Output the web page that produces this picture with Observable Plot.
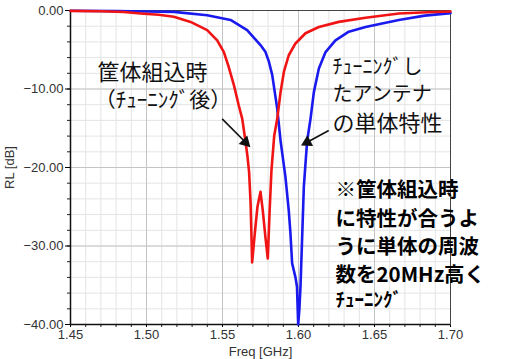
<!DOCTYPE html>
<html>
<head>
<meta charset="utf-8">
<script src="https://cdn.jsdelivr.net/npm/d3@7"></script>
<script src="https://cdn.jsdelivr.net/npm/@observablehq/plot@0.6"></script>
<style>
  html, body { margin: 0; padding: 0; background: #fff; }
  #chart svg { display: block; }
</style>
</head>
<body>
<div id="chart"></div>
<script>
// Housing-integrated (after tuning) – red
const redFreq = [1.45, 1.47, 1.485, 1.496, 1.508, 1.518, 1.529, 1.5399, 1.5465, 1.5509, 1.5541, 1.5575, 1.5607, 1.563, 1.565, 1.5665, 1.5675, 1.5685, 1.5695,
  1.5712, 1.5730, 1.5750, 1.5765, 1.5782, 1.5798, 1.5810, 1.5822, 1.5840, 1.586, 1.5882, 1.5904, 1.5936, 1.598, 1.6046, 1.6134, 1.6265, 1.6441, 1.666, 1.685, 1.70];
const redRL = [-0.05, -0.1, -0.2, -0.38, -0.55, -0.8, -1.45, -2.5, -3.8, -5.3, -7.2, -9.5, -12.1, -13.8, -16.5, -18.7, -20.6, -24.6, -32.1,
  -28.5, -25.0, -23.1, -25.5, -28.8, -31.6, -25.5, -20.4, -16.0, -13.8, -10.4, -7.8, -5.7, -4.2, -2.9, -2.1, -1.45, -0.93, -0.38, -0.22, -0.13];

// Stand-alone tuned antenna – blue
const blueFreq = [1.45, 1.48, 1.50, 1.518, 1.5399, 1.5553, 1.5662, 1.575, 1.5783, 1.5805, 1.5827, 1.586, 1.5882, 1.5914, 1.5936, 1.5947, 1.5958, 1.598, 1.599, 1.5998,
  1.6006, 1.6013, 1.6024, 1.6035, 1.6046, 1.6057, 1.6079, 1.6101, 1.6134, 1.6178, 1.6243, 1.6331, 1.6441, 1.655, 1.666, 1.683, 1.70];
const blueRL = [-0.03, -0.08, -0.12, -0.17, -0.6, -1.2, -2.5, -4.4, -5.3, -6.5, -8.2, -12.5, -16.6, -21.2, -25.5, -28.4, -32.2, -34.0, -35.2, -40.0,
  -38.0, -35.2, -28.9, -22.5, -19.5, -16.6, -13.8, -10.4, -7.4, -5.3, -3.8, -2.7, -2.1, -1.66, -1.2, -0.65, -0.34];

// Axes
const xMajorTicks = [1.45, 1.50, 1.55, 1.60, 1.65, 1.70];
const xMinorTicks = d3.range(0, 26).map(i => +(1.45 + i * 0.01).toFixed(2));
const yMajorTicks = [-40, -30, -20, -10, 0];
const yMinorTicks = d3.range(-40, 1, 2);
const xLabel = "Freq [GHz]";
const yLabel = "RL [dB]";

// Annotations (text, position in data units)
const noteTexts = ["筐体組込時", "（ﾁｭｰﾆﾝｸﾞ後）", "ﾁｭｰﾆﾝｸﾞし", "たアンテナ", "の単体特性"];
const noteFreq  = [1.4678, 1.4660, 1.6224, 1.6224, 1.6224];
const noteRL    = [-7.9, -11.4, -7.25, -10.7, -14.4];
const noteSize  = [22, 21, 20, 20, 22];

const boldTexts = ["※筐体組込時", "に特性が合うよ", "うに単体の周波", "数を20MHz高く", "ﾁｭｰﾆﾝｸﾞ"];
const boldFreq  = [1.6243, 1.6243, 1.6243, 1.6243, 1.6243];
const boldRL    = [-22.95, -26.6, -30.15, -33.7, -37.0];
const boldSize  = [20.5, 20.5, 20.5, 20.5, 19];

// Arrows: start (x1,y1) -> tip (x2,y2)
const arrowX1 = [1.5498, 1.6199];
const arrowY1 = [-13.8, -15.29];
const arrowX2 = [1.5651, 1.6057];
const arrowY2 = [-16.78, -16.78];
const arrowRotate = [135, 242];

const red = d3.range(redFreq.length).map(i => ({f: redFreq[i], rl: redRL[i]}));
const blue = d3.range(blueFreq.length).map(i => ({f: blueFreq[i], rl: blueRL[i]}));
const notes = noteTexts.map((t, i) => ({t, f: noteFreq[i], rl: noteRL[i], s: noteSize[i]}));
const bolds = boldTexts.map((t, i) => ({t, f: boldFreq[i], rl: boldRL[i], s: boldSize[i]}));
const arrows = arrowX1.map((_, i) => ({x1: arrowX1[i], y1: arrowY1[i], x2: arrowX2[i], y2: arrowY2[i], r: arrowRotate[i]}));

const chart = Plot.plot({
  width: 509,
  height: 359,
  marginLeft: 70,
  marginRight: 59,
  marginTop: 10,
  marginBottom: 35,
  style: {fontFamily: "'Liberation Sans', Arial, sans-serif", fontSize: "12px", background: "#fff", overflow: "visible"},
  x: {domain: [1.45, 1.70]},
  y: {domain: [-40, 0]},
  marks: [
    Plot.gridX(xMinorTicks, {stroke: "#e4e4e4", strokeOpacity: 1}),
    Plot.gridY(yMinorTicks, {stroke: "#e4e4e4", strokeOpacity: 1}),
    Plot.gridX(xMajorTicks, {stroke: "#c4c4c4", strokeOpacity: 1}),
    Plot.gridY(yMajorTicks, {stroke: "#c4c4c4", strokeOpacity: 1}),
    Plot.axisX(xMinorTicks, {tickSize: 3, text: null, label: null, stroke: "#222"}),
    Plot.axisY(yMinorTicks, {tickSize: 3, text: null, label: null, stroke: "#222"}),
    Plot.axisX(xMajorTicks, {tickSize: 3, tickPadding: 2, tickFormat: d3.format(".2f"), fontSize: 13, fill: "#333",
      label: xLabel, labelAnchor: "center", labelArrow: "none", labelOffset: 31}),
    Plot.axisY(yMajorTicks, {tickSize: 5, tickPadding: 2, tickFormat: d3.format(".2f"), fontSize: 13, fill: "#333",
      label: yLabel, labelAnchor: "center", labelArrow: "none", labelOffset: 66}),
    Plot.frame({stroke: "#444", strokeWidth: 1}),
    Plot.ruleX([1.45], {stroke: "#111", strokeWidth: 1.5}),
    Plot.ruleY([-40], {stroke: "#111", strokeWidth: 1.5}),
    Plot.line(blue, {x: "f", y: "rl", stroke: "#1a1aee", strokeWidth: 2.6, curve: "linear"}),
    Plot.line(red, {x: "f", y: "rl", stroke: "#f01414", strokeWidth: 2.6, curve: "linear"}),
    Plot.link(arrows, {x1: "x1", y1: "y1", x2: "x2", y2: "y2", stroke: "#111", strokeWidth: 1.6}),
    Plot.dot(arrows, {x: "x2", y: "y2", symbol: "triangle", r: 4.5, fill: "#111", stroke: "none", rotate: "r"}),
    Plot.text(notes, {x: "f", y: "rl", text: "t", fontSize: "s", textAnchor: "start", lineAnchor: "middle",
      fill: "#111", fontFamily: "'Noto Sans CJK JP', sans-serif"}),
    Plot.text(bolds, {x: "f", y: "rl", text: "t", fontSize: "s", textAnchor: "start", lineAnchor: "middle",
      fill: "#000", fontWeight: "bold", fontFamily: "'Noto Sans CJK JP', sans-serif"})
  ]
});
document.getElementById("chart").appendChild(chart);
</script>
</body>
</html>
